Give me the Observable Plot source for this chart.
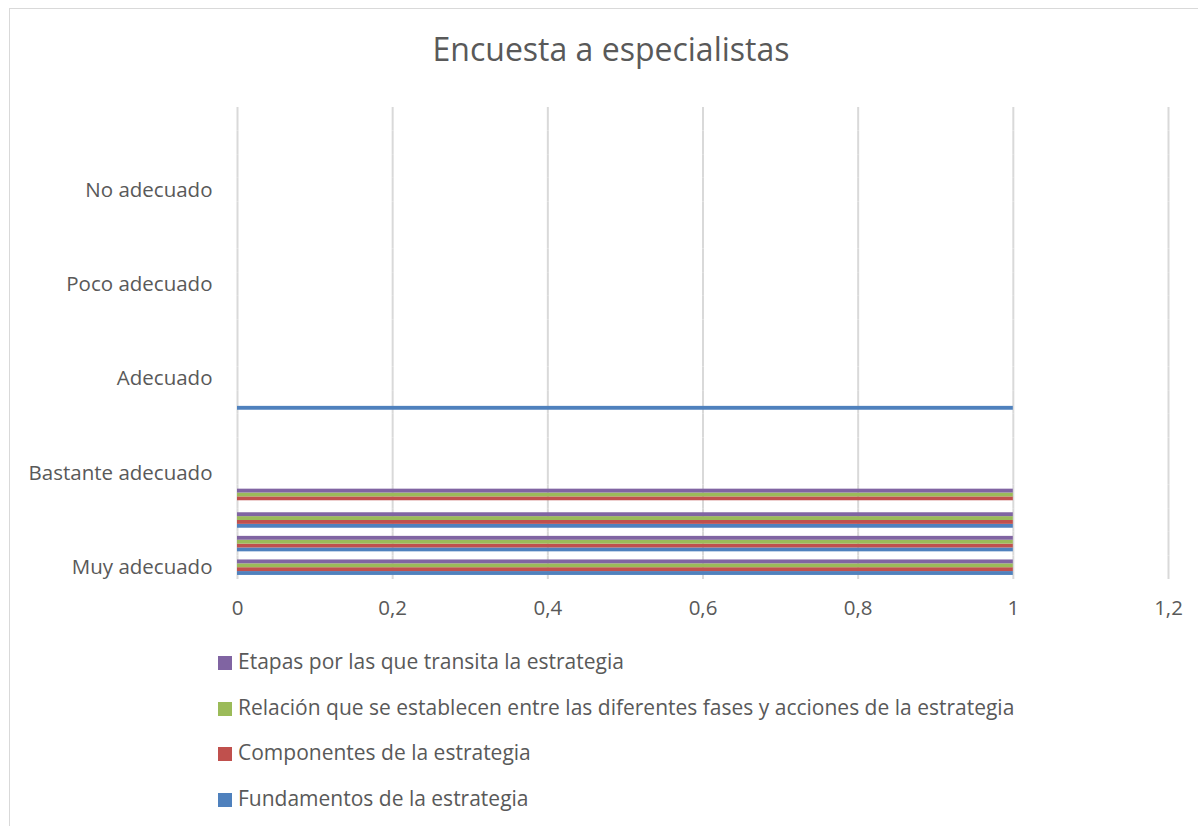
<!DOCTYPE html>
<html>
<head>
<meta charset="utf-8">
<script src="https://cdn.jsdelivr.net/npm/d3@7"></script>
<script src="https://cdn.jsdelivr.net/npm/@observablehq/plot@0.6"></script>
<style>
  html, body { margin: 0; padding: 0; background: #fff; }
  #wrap { position: relative; width: 1198px; height: 826px; overflow: hidden; font-family: "Open Sans", sans-serif; color: #595959; }
  #frame { position: absolute; left: 9px; top: 8px; width: 1300px; height: 900px; border: 1.5px solid #d9d9d9; box-sizing: border-box; }
  #title { position: absolute; left: 0; width: 1222px; top: 27px; text-align: center; font-size: 32px; color: #595959; }
  #chart { position: absolute; left: 0; top: 0; }
  #legend { position: absolute; left: 218px; top: 647px; font-size: 21px; color: #595959; }
  .item { height: 45.6px; display: flex; align-items: flex-start; }
  .sw { width: 14px; height: 14px; margin-right: 6px; margin-top: 9px; }
</style>
</head>
<body>
<div id="wrap">
  <div id="frame"></div>
  <div id="title">Encuesta a especialistas</div>
  <div id="chart"></div>
  <div id="legend"></div>
</div>
<script>
// Category axis: 20 rows, only every 4th labelled
const rowCount = 20;
const rowLabels = ["Muy adecuado", "Bastante adecuado", "Adecuado", "Poco adecuado", "No adecuado"];
const seriesNames = [
  "Fundamentos de la estrategia",
  "Componentes de la estrategia",
  "Relación que se establecen entre las diferentes fases y acciones de la estrategia",
  "Etapas por las que transita la estrategia"
];
const seriesColors = ["#4F81BD", "#C0504D", "#9BBB59", "#8064A2"];
// values per row (row 0 = bottom)
const fundamentos = [1, 1, 1, 0, 0, 0, 0, 1, 0, 0, 0, 0, 0, 0, 0, 0, 0, 0, 0, 0];
const componentes = [1, 1, 1, 1, 0, 0, 0, 0, 0, 0, 0, 0, 0, 0, 0, 0, 0, 0, 0, 0];
const relacion    = [1, 1, 1, 1, 0, 0, 0, 0, 0, 0, 0, 0, 0, 0, 0, 0, 0, 0, 0, 0];
const etapas      = [1, 1, 1, 1, 0, 0, 0, 0, 0, 0, 0, 0, 0, 0, 0, 0, 0, 0, 0, 0];
const xTicks = [0, 0.2, 0.4, 0.6, 0.8, 1, 1.2];

const rows = d3.range(rowCount);
const seriesValues = [fundamentos, componentes, relacion, etapas];
const data = [];
seriesValues.forEach((vals, s) => {
  vals.forEach((v, i) => { if (v !== 0) data.push({row: i, series: seriesNames[s], value: v}); });
});
// gridlines repeated in every row so that every facet exists
const grid = rows.flatMap(r => xTicks.map(t => ({row: r, x: t})));

const fmt = d => String(d).replace(".", ",");

const chart = Plot.plot({
  width: 1198,
  height: 640,
  marginLeft: 237,
  marginRight: 30,
  marginTop: 107,
  marginBottom: 61,
  style: {fontFamily: "Open Sans, sans-serif", fontSize: "20.5px", color: "#595959", background: "transparent"},
  x: {domain: [0, 1.2], ticks: xTicks, tickFormat: fmt, tickSize: 0, tickPadding: 21, label: null},
  y: {domain: [...seriesNames].reverse(), axis: null, paddingInner: 0, paddingOuter: 1.05, round: false},
  fy: {domain: d3.range(rowCount - 1, -1, -1), padding: 0, round: false, tickSize: 0, tickPadding: 25, label: null,
       tickFormat: i => (i % 4 === 0 ? rowLabels[i / 4] : "")},
  color: {domain: seriesNames, range: seriesColors},
  marks: [
    Plot.ruleX(grid, {x: "x", fy: "row", stroke: "#d9d9d9", strokeWidth: 2}),
    Plot.barX(data, {x: "value", y: "series", fy: "row", fill: "series"})
  ]
});
document.getElementById("chart").appendChild(chart);

const legend = document.getElementById("legend");
[3, 2, 1, 0].forEach(s => {
  const it = document.createElement("div");
  it.className = "item";
  const sw = document.createElement("div");
  sw.className = "sw";
  sw.style.background = seriesColors[s];
  const tx = document.createElement("span");
  tx.textContent = seriesNames[s];
  it.appendChild(sw); it.appendChild(tx);
  legend.appendChild(it);
});
</script>
</body>
</html>
